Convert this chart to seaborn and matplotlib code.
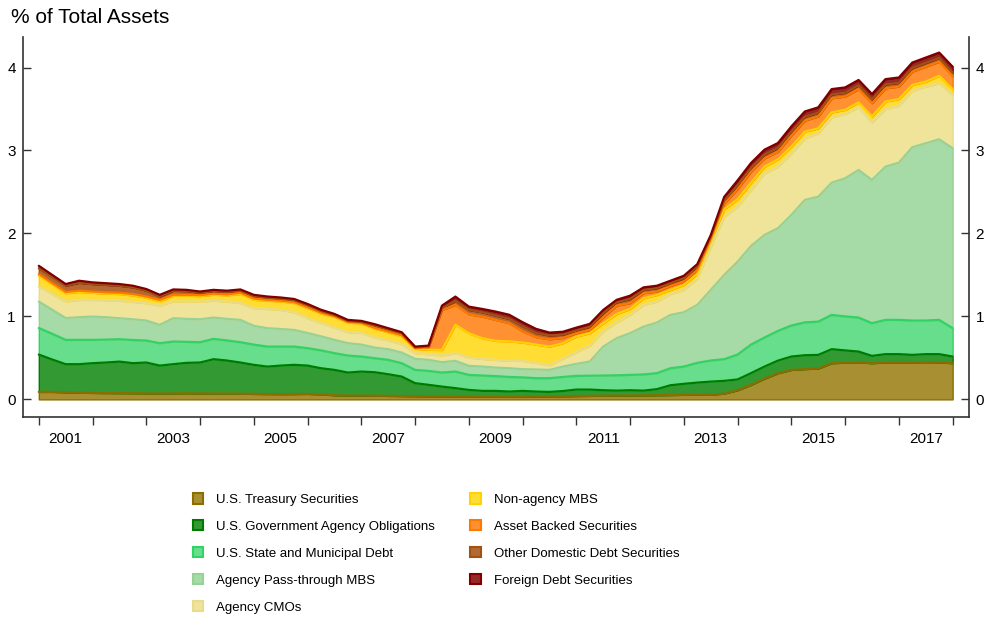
import numpy as np
import pandas as pd
import seaborn as sns
import matplotlib.pyplot as plt
from matplotlib.patches import Patch

# quarterly observations, 2000Q4 .. 2017Q4 (% of total assets)
quarters = pd.period_range("2000Q4", "2017Q4", freq="Q")

treasury = [.09, .09, .085, .08, .078, .076, .075, .074, .072, .07,
            .072, .073, .072, .07, .07, .068, .066, .064, .063, .064,
            .066, .06, .05, .045, .045, .044, .042, .04, .038, .036,
            .035, .034, .034, .033, .033, .033, .034, .035, .035, .037,
            .04, .042, .044, .045, .046, .048, .05, .052, .055, .058,
            .055, .07, .11, .175, .25, .315, .355, .365, .372, .436,
            .443, .446, .436, .446, .446, .446, .448, .446, .436]
agency_oblig = [.45, .39, .339, .344, .358, .368, .38, .362, .372, .337,
                .352, .367, .372, .414, .398, .376, .35, .331, .344, .352,
                .341, .315, .305, .278, .29, .283, .261, .235, .157, .139,
                .119, .101, .08, .069, .069, .061, .068, .059, .055, .063,
                .078, .076, .066, .06, .064, .057, .073, .118, .132, .144,
                .159, .153, .13, .141, .145, .152, .161, .167, .164, .169,
                .147, .13, .088, .099, .099, .09, .097, .099, .08]
state_muni = [.32, .31, .293, .293, .281, .276, .27, .279, .265, .27,
              .273, .253, .245, .245, .242, .245, .244, .241, .229, .22,
              .21, .215, .202, .205, .181, .169, .173, .161, .16, .168,
              .169, .20, .181, .185, .178, .176, .163, .161, .165, .17,
              .165, .167, .177, .185, .185, .195, .193, .205, .208, .238,
              .254, .261, .30, .344, .35, .358, .374, .396, .401, .413,
              .41, .41, .394, .413, .413, .414, .405, .413, .342]
passthrough = [.318, .29, .263, .273, .281, .27, .253, .25, .241, .221,
               .281, .277, .276, .257, .26, .269, .226, .222, .212, .201,
               .183, .17, .16, .149, .144, .128, .129, .128, .133, .133,
               .125, .129, .109, .108, .103, .105, .099, .105, .10, .125,
               .145, .171, .349, .447, .503, .577, .61, .643, .655, .699,
               .851, 1.016, 1.12, 1.189, 1.237, 1.238, 1.333, 1.476, 1.506, 1.594,
               1.665, 1.779, 1.727, 1.847, 1.895, 2.089, 2.137, 2.177, 2.169]
cmos = [.182, .19, .20, .209, .201, .205, .212, .21, .209, .232,
        .202, .21, .215, .204, .21, .202, .214, .232, .23, .213,
        .178, .16, .148, .133, .14, .121, .104, .101, .069, .069,
        .08, .093, .10, .093, .093, .091, .10, .08, .055, .095,
        .142, .194, .184, .193, .222, .262, .252, .253, .269, .321,
        .522, .702, .663, .675, .743, .742, .743, .743, .764, .788,
        .775, .755, .695, .695, .687, .681, .683, .675, .643]
nonagency = [.13, .115, .10, .096, .086, .08, .08, .08, .066, .055,
             .07, .07, .065, .072, .075, .11, .10, .10, .102, .112,
             .121, .115, .13, .115, .115, .105, .099, .095, .053, .053,
             .068, .341, .293, .249, .229, .234, .221, .22, .226, .187,
             .187, .148, .098, .10, .07, .08, .081, .048, .061, .052,
             .059, .089, .089, .088, .08, .088, .08, .08, .06, .06,
             .05, .06, .07, .09, .08, .07, .06, .09, .07]
abs_sec = [.02, .015, .015, .015, .015, .015, .015, .015, .015, .015,
           .01, .01, .01, .013, .01, .015, .015, .01, .01, .01,
           .011, .01, .007, .007, .007, .011, .01, .013, .006, .03,
           .482, .241, .229, .261, .253, .218, .135, .09, .089, .063,
           .041, .039, .072, .10, .07, .061, .041, .049, .04, .048,
           .03, .069, .123, .133, .10, .092, .134, .133, .143, .17,
           .16, .16, .16, .16, .15, .16, .18, .17, .155]
other_dom = [.07, .075, .075, .095, .09, .09, .085, .08, .07, .04,
             .05, .045, .03, .03, .03, .025, .03, .025, .023, .023,
             .025, .02, .013, .013, .01, .03, .027, .025, .01, .01,
             .021, .048, .052, .052, .052, .052, .06, .05, .045, .04,
             .032, .038, .05, .04, .05, .04, .04, .032, .04, .04,
             .03, .035, .045, .045, .045, .045, .045, .045, .045, .045,
             .045, .045, .045, .045, .045, .045, .045, .045, .045]
foreign = [.03, .025, .02, .025, .02, .02, .02, .02, .02, .02,
           .015, .015, .015, .015, .015, .015, .015, .015, .015, .015,
           .015, .015, .015, .013, .014, .015, .013, .012, .01, .01,
           .031, .052, .04, .04, .048, .05, .05, .05, .035, .035,
           .035, .035, .038, .03, .04, .03, .03, .03, .03, .03,
           .02, .045, .06, .06, .06, .06, .065, .065, .065, .065,
           .065, .065, .065, .065, .065, .065, .065, .065, .07]

series_names = ["U.S. Treasury Securities", "U.S. Government Agency Obligations",
                "U.S. State and Municipal Debt", "Agency Pass-through MBS",
                "Agency CMOs", "Non-agency MBS", "Asset Backed Securities",
                "Other Domestic Debt Securities", "Foreign Debt Securities"]
face_colors = ["#a89032", "#339933", "#66de8c", "#a6daa6", "#f0e49b",
               "#ffdd33", "#ff9132", "#b46932", "#962828"]
edge_colors = ["#8c6d00", "#007a00", "#32d264", "#96d296", "#e8dc8c",
               "#ffd200", "#ff7800", "#a05214", "#800000"]
year_labels = ["2001", "2003", "2005", "2007", "2009", "2011", "2013", "2015", "2017"]

# quarter end as decimal year: 2000Q4 -> 2001.0
x = np.asarray(quarters.year + quarters.quarter / 4, dtype=float)
values = np.array([treasury, agency_oblig, state_muni, passthrough, cmos,
                   nonagency, abs_sec, other_dom, foreign])
tops = values.cumsum(axis=0)

sns.set_style("ticks")
plt.rcParams['font.family'] = ['Liberation Sans', 'DejaVu Sans']
plt.rcParams['text.color'] = 'black'
plt.rcParams['xtick.labelcolor'] = 'black'
plt.rcParams['ytick.labelcolor'] = 'black'

fig = plt.figure(figsize=(9.86, 6.18), dpi=100)
ax = fig.add_axes([0.023, 0.326, 0.9595, 0.614])

lower = np.zeros(len(x))
for vals, face, edge in zip(values, face_colors, edge_colors):
    upper = lower + vals
    ax.fill_between(x, lower, upper, facecolor=face, edgecolor=edge, linewidth=1.0)
    lower = upper

# layer boundaries drawn on top, each in the colour of the layer below it
long = pd.DataFrame({
    "x": np.tile(x, len(series_names)),
    "top": tops.ravel(),
    "series": np.repeat(series_names, len(x)),
})
sns.lineplot(data=long, x="x", y="top", hue="series", hue_order=series_names,
             palette=dict(zip(series_names, edge_colors)), linewidth=1.6,
             estimator=None, legend=False, ax=ax)

ax.set_xlim(2000.70, 2018.30)
ax.set_ylim(-0.207, 4.367)
ax.set_xlabel("")
ax.set_ylabel("")

ax.set_xticks(range(2001, 2019), labels=[""] * 18)
ax.set_xticks(np.arange(2001.5, 2018, 2), labels=year_labels, minor=True)
ax.tick_params(axis="x", which="major", direction="out", length=6, width=1, color="#333333")
ax.tick_params(axis="x", which="minor", length=0, pad=11, labelsize=11)
ax.set_yticks([0, 1, 2, 3, 4])
ax.tick_params(axis="y", direction="in", length=6, width=1, color="#333333",
               left=True, right=True, labelleft=True, labelright=True, pad=5, labelsize=11)

ax.spines["top"].set_visible(False)
for side in ["left", "right", "bottom"]:
    ax.spines[side].set_visible(True)
    ax.spines[side].set_color("#333333")
    ax.spines[side].set_linewidth(1.2)

fig.text(0.0115, 0.971, "% of Total Assets", fontsize=15, va="center", ha="left")

handles = [Patch(facecolor=f, edgecolor=e, linewidth=1.5, label=n)
           for n, f, e in zip(series_names, face_colors, edge_colors)]
fig.legend(handles=handles, loc="upper left", bbox_to_anchor=(0.1955, 0.2015),
           ncol=2, frameon=False, fontsize=9.5,
           handlelength=0.76, handleheight=0.8, handletextpad=1.0,
           columnspacing=2.7, labelspacing=1.08, borderpad=0, borderaxespad=0)

fig.savefig("out.png", dpi=100)
